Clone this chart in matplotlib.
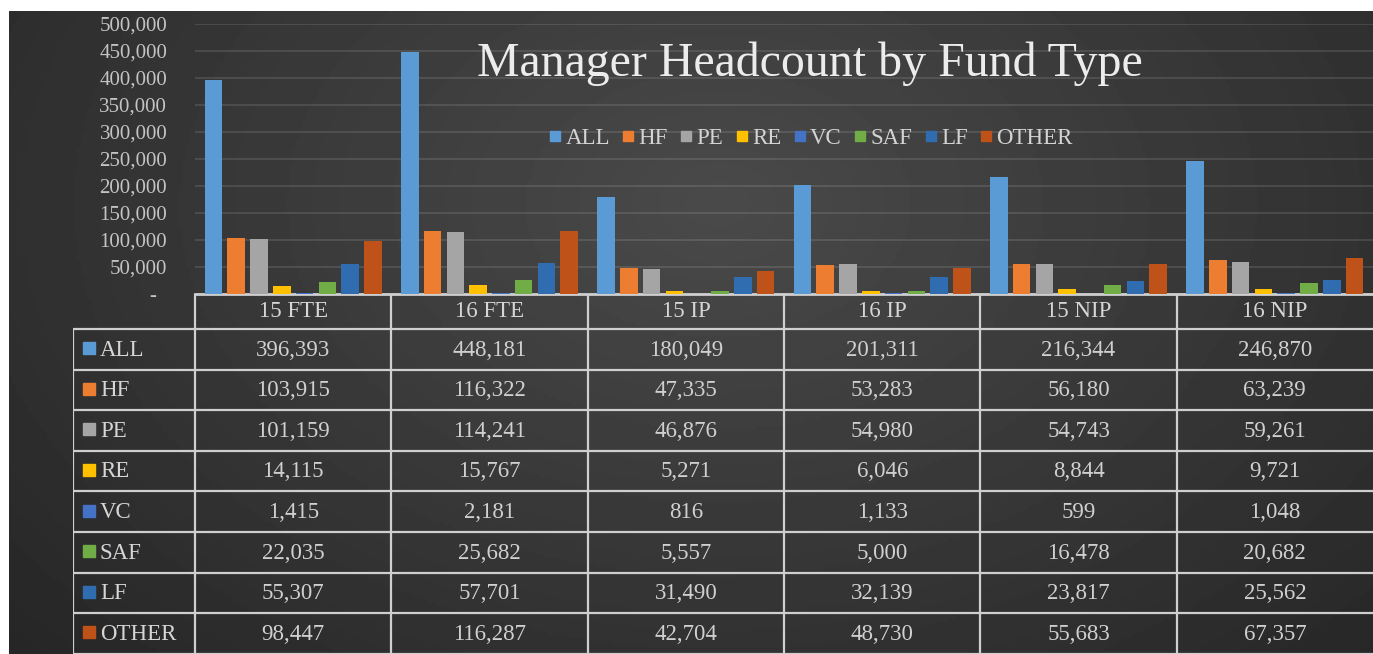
import numpy as np
import matplotlib
matplotlib.use('Agg')
import matplotlib.pyplot as plt
from matplotlib.lines import Line2D
from matplotlib.ticker import FuncFormatter

# data
categories = ['15 FTE', '16 FTE', '15 IP', '16 IP', '15 NIP', '16 NIP']
series = ['ALL', 'HF', 'PE', 'RE', 'VC', 'SAF', 'LF', 'OTHER']
all_vals = [396393, 448181, 180049, 201311, 216344, 246870]
hf_vals = [103915, 116322, 47335, 53283, 56180, 63239]
pe_vals = [101159, 114241, 46876, 54980, 54743, 59261]
re_vals = [14115, 15767, 5271, 6046, 8844, 9721]
vc_vals = [1415, 2181, 816, 1133, 599, 1048]
saf_vals = [22035, 25682, 5557, 5000, 16478, 20682]
lf_vals = [55307, 57701, 31490, 32139, 23817, 25562]
other_vals = [98447, 116287, 42704, 48730, 55683, 67357]
values = [all_vals, hf_vals, pe_vals, re_vals, vc_vals, saf_vals, lf_vals, other_vals]

colors = ['#5B9BD5', '#ED7D31', '#A5A5A5', '#FFC000', '#4472C4', '#70AD47', '#2F6DB0', '#BF5218']

plt.rcParams['font.family'] = ['Liberation Serif', 'DejaVu Serif']

W, H = 1373, 654
fig = plt.figure(figsize=(W / 100, H / 100), dpi=100, facecolor='white')

def fx(px):
    return px / W

def fy(px):
    return 1 - px / H

# dark gradient background
bg = fig.add_axes([fx(9), 0, 1 - fx(9), fy(11)], zorder=-10)
gx, gy = np.meshgrid(np.linspace(0, 1, 400), np.linspace(0, 1, 200))
r = np.sqrt(((gx - 0.52) / 0.75) ** 2 + ((gy - 0.3) / 1.1) ** 2)
shade = 0.29 - 0.15 * np.clip(r, 0, 1)
bg.imshow(shade, cmap='gray', vmin=0, vmax=1, aspect='auto', extent=[0, 1, 1, 0])
bg.axis('off')

# bar chart
ax = fig.add_axes([fx(195), fy(294), fx(1373) - fx(195), fy(24) - fy(294)])
ax.set_facecolor('none')
x = np.arange(len(categories))
step = 0.116
for i, (name, vals) in enumerate(zip(series, values)):
    ax.bar(x + (i - 3.5) * step, vals, width=0.089, color=colors[i], zorder=3, label=name)

ax.set_xlim(-0.5, 5.5)
ax.set_ylim(0, 500000)
ax.set_yticks(np.arange(0, 500001, 50000))
ax.yaxis.set_major_formatter(FuncFormatter(lambda v, p: '-  ' if v == 0 else f'{int(v):,}'))
ax.tick_params(axis='y', length=0, pad=20, labelsize=15, labelcolor='#c4c4c4')
ax.set_xticks([])
ax.grid(axis='y', color='white', alpha=0.13, lw=1.2, zorder=0)
for s in ['top', 'right', 'left']:
    ax.spines[s].set_visible(False)
ax.spines['bottom'].set_color('#cfcfcf')
ax.spines['bottom'].set_linewidth(2)

ax.text(0.522, 0.807, 'Manager Headcount by Fund Type', transform=ax.transAxes,
        ha='center', va='baseline', fontsize=34.5, color='#ececec')

handles = [Line2D([], [], marker='s', ls='none', markersize=7.5, color=c) for c in colors]
ax.legend(handles, series, loc='center', bbox_to_anchor=(0.523, 0.575), ncol=8,
          frameon=False, fontsize=16.5, labelcolor='#d4d4d4', handlelength=0.5,
          handletextpad=0.2, columnspacing=0.55, borderpad=0)

# data table under the chart
tab = fig.add_axes([fx(73), 0, fx(1373) - fx(73), fy(294)])
tab.set_facecolor('none')
left = -0.5 - 0.622
hdr = 0.86
tab.set_xlim(left, 5.5)
tab.set_ylim(8, -hdr)
tab.axis('off')
line_kw = dict(color='#cfcfcf', lw=1.6)
for k in range(len(series) + 1):
    tab.hlines(k, left, 5.5, clip_on=False, **line_kw)
for k in range(len(categories)):
    tab.vlines(k - 0.5, -hdr, 8, **line_kw)
tab.vlines(left, 0, 8, **line_kw)

for j, cat in enumerate(categories):
    tab.text(j, -hdr / 2, cat, ha='center', va='center', fontsize=16.5, color='#d6d6d6')

for i, (name, vals) in enumerate(zip(series, values)):
    tab.plot(left + 0.079, i + 0.47, marker='s', markersize=8.5, color=colors[i])
    tab.text(left + 0.137, i + 0.52, name, ha='left', va='center', fontsize=16.5, color='#d6d6d6')
    for j, v in enumerate(vals):
        tab.text(j, i + 0.52, f'{v:,}', ha='center', va='center', fontsize=16.5, color='#d0d0d0')

plt.savefig('out.png', dpi=100, facecolor='white')
